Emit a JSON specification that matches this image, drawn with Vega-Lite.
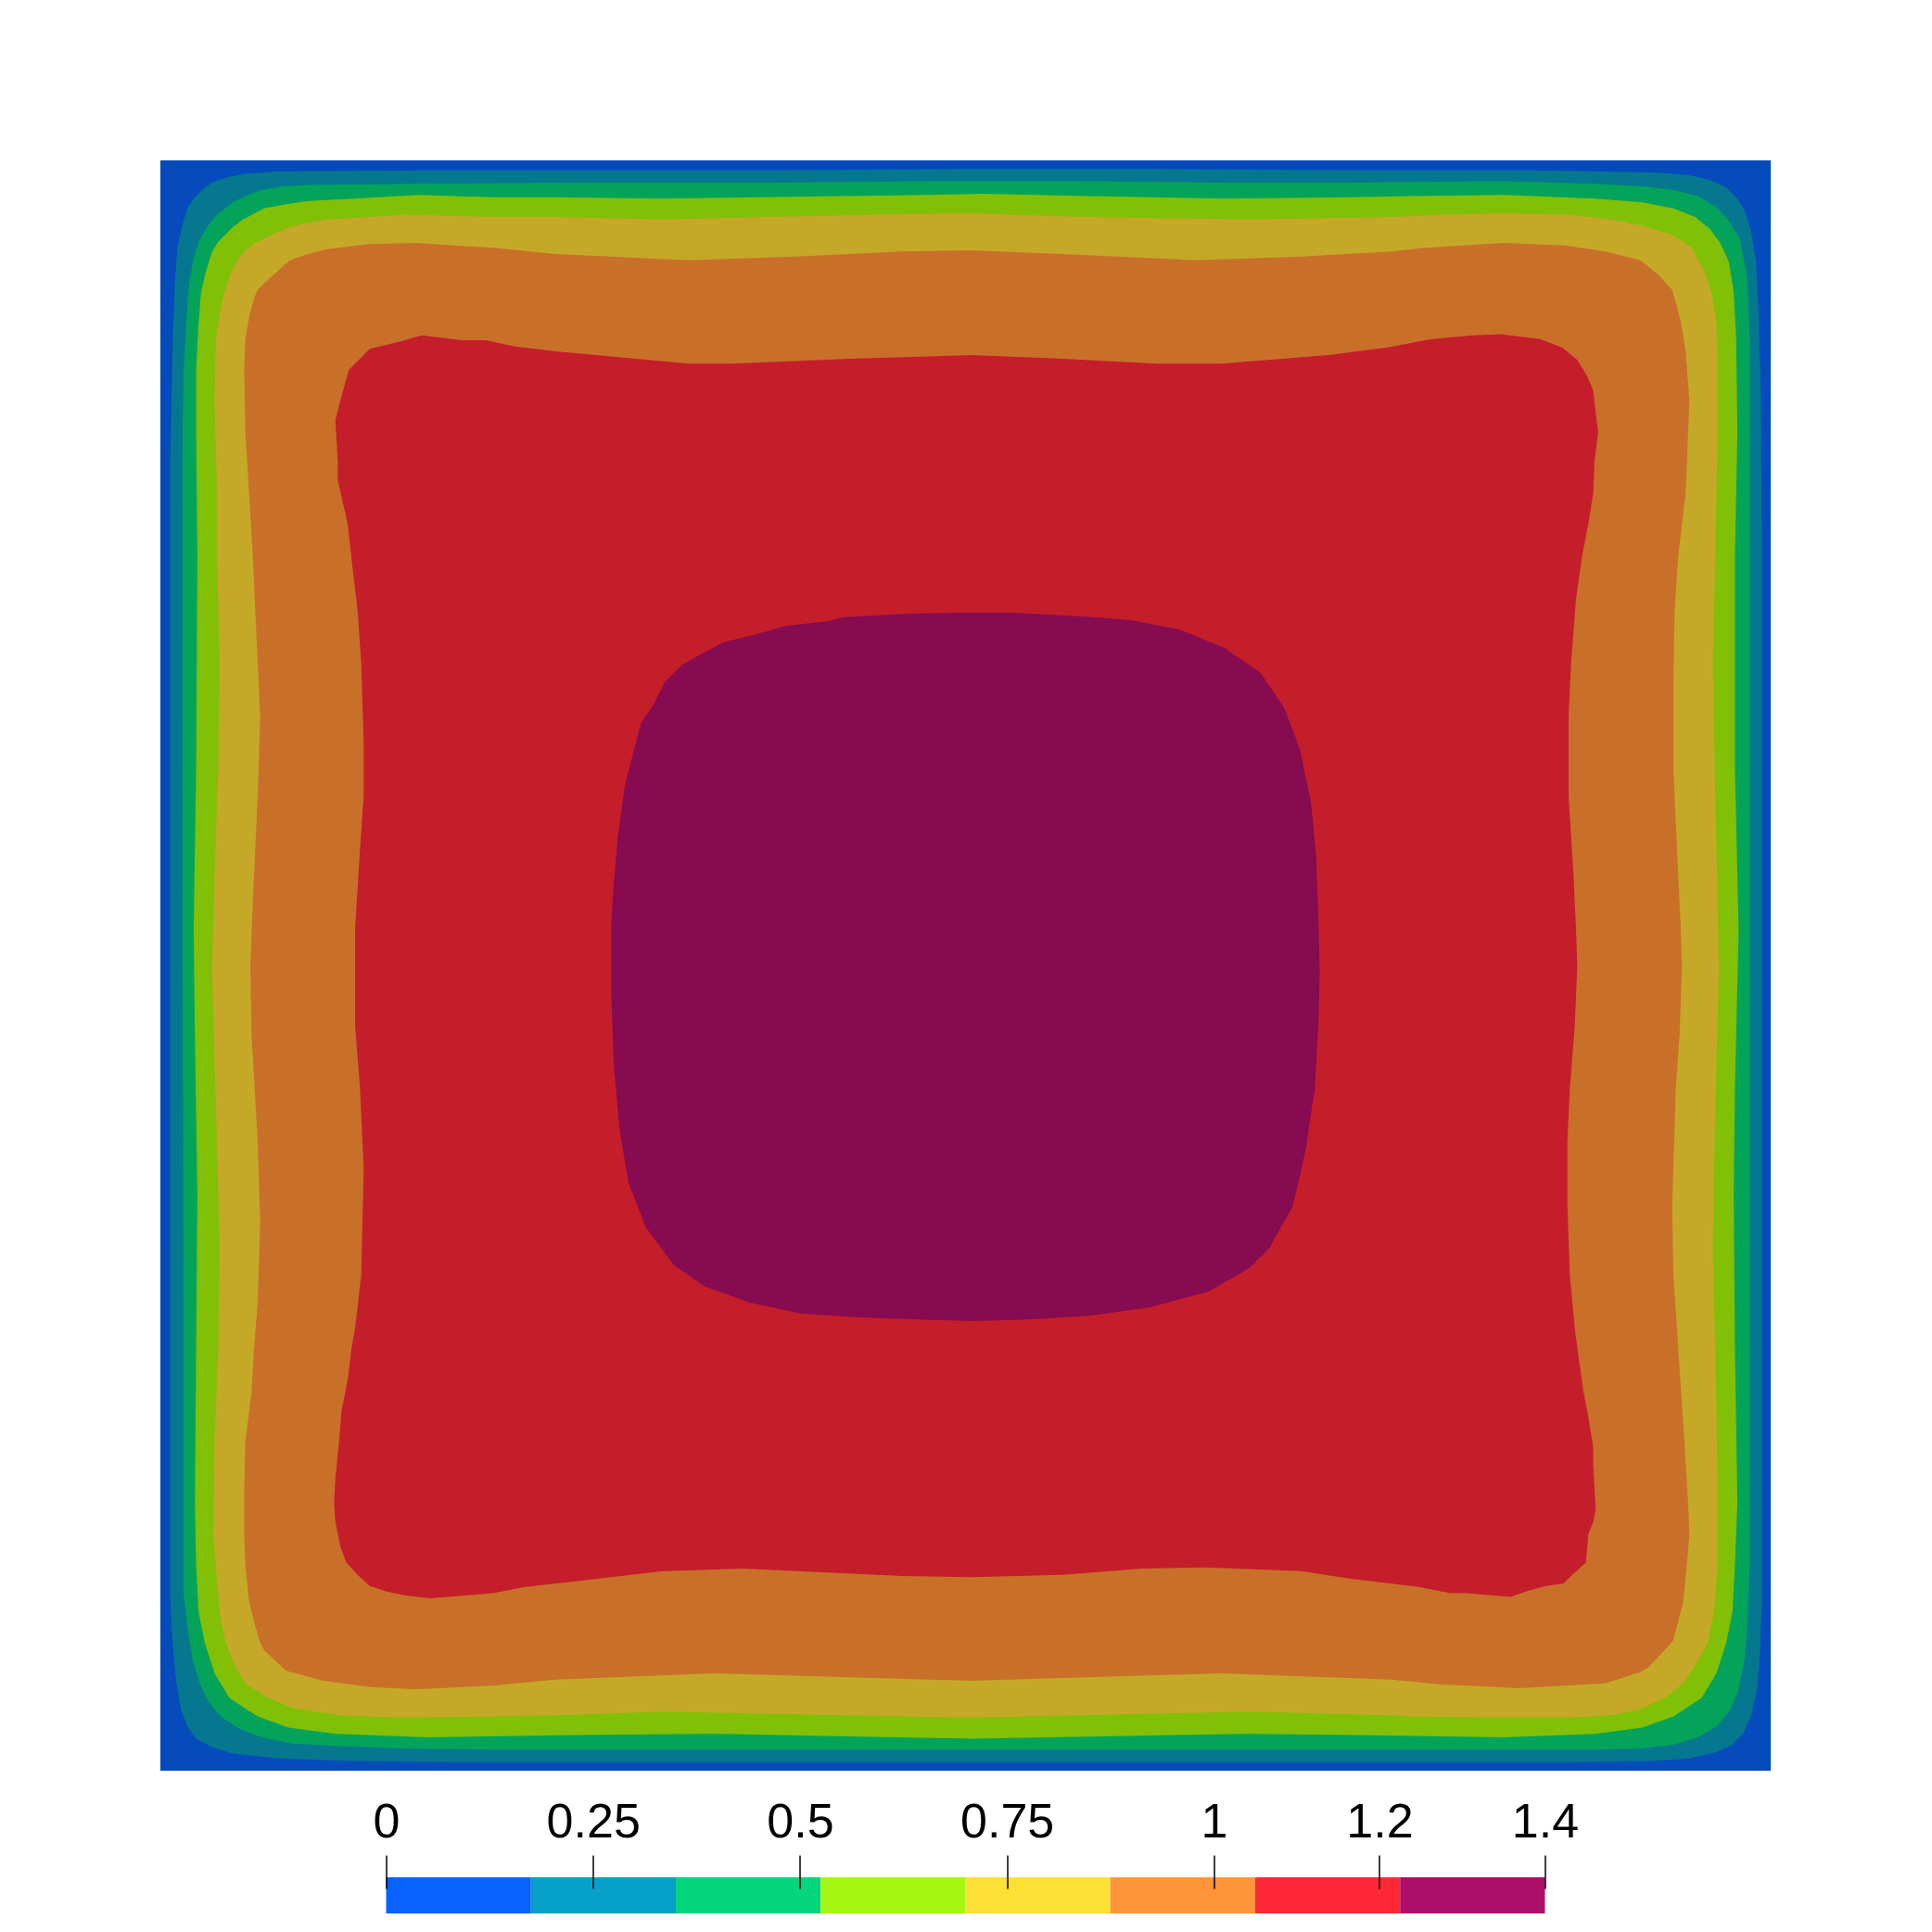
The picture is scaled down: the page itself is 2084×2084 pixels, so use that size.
{
"$schema": "https://vega.github.io/schema/vega-lite/v6.json",
"background": "white",
"padding": {"left": 173, "top": 173, "right": 0, "bottom": 0},
"config": {"view": {"stroke": null}},
"bounds": "flush",
"spacing": 115,
"center": true,
"resolve": {"scale": {"color": "independent", "x": "independent", "y": "independent"}},
"datasets": {
"bins": [
{"level": "0-0.175", "lo": 0, "hi": 0.175},
{"level": "0.175-0.35", "lo": 0.175, "hi": 0.35},
{"level": "0.35-0.525", "lo": 0.35, "hi": 0.525},
{"level": "0.525-0.7", "lo": 0.525, "hi": 0.7},
{"level": "0.7-0.875", "lo": 0.7, "hi": 0.875},
{"level": "0.875-1.05", "lo": 0.875, "hi": 1.05},
{"level": "1.05-1.225", "lo": 1.05, "hi": 1.225},
{"level": "1.225-1.4", "lo": 1.225, "hi": 1.4}
],
"contours": [
{"level":"0-0.175","x":0,"y":0},{"level":"0-0.175","x":1307,"y":0},{"level":"0-0.175","x":1307,"y":1307},{"level":"0-0.175","x":0,"y":1307},

{"level":"0.175-0.35","x":8,"y":650},{"level":"0.175-0.35","x":8,"y":245},{"level":"0.175-0.35","x":10,"y":145},{"level":"0.175-0.35","x":12,"y":95},{"level":"0.175-0.35","x":14,"y":69},{"level":"0.175-0.35","x":18,"y":52},{"level":"0.175-0.35","x":22,"y":39},{"level":"0.175-0.35","x":27,"y":31},{"level":"0.175-0.35","x":36,"y":22},{"level":"0.175-0.35","x":44,"y":17},{"level":"0.175-0.35","x":57,"y":13},{"level":"0.175-0.35","x":69,"y":11},{"level":"0.175-0.35","x":95,"y":9},{"level":"0.175-0.35","x":207,"y":8},{"level":"0.175-0.35","x":340,"y":8},{"level":"0.175-0.35","x":500,"y":8},{"level":"0.175-0.35","x":650,"y":7},{"level":"0.175-0.35","x":800,"y":7},{"level":"0.175-0.35","x":965,"y":8},{"level":"0.175-0.35","x":1115,"y":8},{"level":"0.175-0.35","x":1216,"y":10},{"level":"0.175-0.35","x":1241,"y":12},{"level":"0.175-0.35","x":1258,"y":16},{"level":"0.175-0.35","x":1271,"y":22},{"level":"0.175-0.35","x":1280,"y":31},{"level":"0.175-0.35","x":1286,"y":41},{"level":"0.175-0.35","x":1291,"y":57},{"level":"0.175-0.35","x":1295,"y":82},{"level":"0.175-0.35","x":1297,"y":120},{"level":"0.175-0.35","x":1299,"y":195},{"level":"0.175-0.35","x":1300,"y":340},{"level":"0.175-0.35","x":1300,"y":650},{"level":"0.175-0.35","x":1300,"y":965},{"level":"0.175-0.35","x":1300,"y":1165},{"level":"0.175-0.35","x":1298,"y":1216},{"level":"0.175-0.35","x":1296,"y":1241},{"level":"0.175-0.35","x":1291,"y":1263},{"level":"0.175-0.35","x":1285,"y":1276},{"level":"0.175-0.35","x":1276,"y":1286},{"level":"0.175-0.35","x":1263,"y":1292},{"level":"0.175-0.35","x":1241,"y":1297},{"level":"0.175-0.35","x":1216,"y":1299},{"level":"0.175-0.35","x":1140,"y":1300},{"level":"0.175-0.35","x":965,"y":1300},{"level":"0.175-0.35","x":650,"y":1300},{"level":"0.175-0.35","x":340,"y":1300},{"level":"0.175-0.35","x":245,"y":1300},{"level":"0.175-0.35","x":145,"y":1299},{"level":"0.175-0.35","x":95,"y":1297},{"level":"0.175-0.35","x":59,"y":1293},{"level":"0.175-0.35","x":42,"y":1288},{"level":"0.175-0.35","x":29,"y":1281},{"level":"0.175-0.35","x":22,"y":1271},{"level":"0.175-0.35","x":17,"y":1258},{"level":"0.175-0.35","x":13,"y":1236},{"level":"0.175-0.35","x":11,"y":1216},{"level":"0.175-0.35","x":9,"y":1190},{"level":"0.175-0.35","x":8,"y":1165},{"level":"0.175-0.35","x":8,"y":965},

{"level":"0.35-0.525","x":18,"y":650},{"level":"0.35-0.525","x":18,"y":220},{"level":"0.35-0.525","x":19,"y":170},{"level":"0.35-0.525","x":21,"y":132},{"level":"0.35-0.525","x":23,"y":102},{"level":"0.35-0.525","x":27,"y":79},{"level":"0.35-0.525","x":32,"y":64},{"level":"0.35-0.525","x":38,"y":54},{"level":"0.35-0.525","x":46,"y":44},{"level":"0.35-0.525","x":59,"y":34},{"level":"0.35-0.525","x":69,"y":29},{"level":"0.35-0.525","x":82,"y":24},{"level":"0.35-0.525","x":100,"y":21},{"level":"0.35-0.525","x":120,"y":20},{"level":"0.35-0.525","x":207,"y":19},{"level":"0.35-0.525","x":340,"y":18},{"level":"0.35-0.525","x":500,"y":18},{"level":"0.35-0.525","x":623,"y":17},{"level":"0.35-0.525","x":750,"y":17},{"level":"0.35-0.525","x":861,"y":18},{"level":"0.35-0.525","x":965,"y":18},{"level":"0.35-0.525","x":1090,"y":17},{"level":"0.35-0.525","x":1165,"y":19},{"level":"0.35-0.525","x":1203,"y":21},{"level":"0.35-0.525","x":1228,"y":24},{"level":"0.35-0.525","x":1248,"y":29},{"level":"0.35-0.525","x":1263,"y":38},{"level":"0.35-0.525","x":1273,"y":49},{"level":"0.35-0.525","x":1282,"y":64},{"level":"0.35-0.525","x":1288,"y":95},{"level":"0.35-0.525","x":1290,"y":145},{"level":"0.35-0.525","x":1290,"y":220},{"level":"0.35-0.525","x":1290,"y":340},{"level":"0.35-0.525","x":1290,"y":654},{"level":"0.35-0.525","x":1290,"y":965},{"level":"0.35-0.525","x":1290,"y":1140},{"level":"0.35-0.525","x":1288,"y":1190},{"level":"0.35-0.525","x":1286,"y":1216},{"level":"0.35-0.525","x":1281,"y":1241},{"level":"0.35-0.525","x":1274,"y":1258},{"level":"0.35-0.525","x":1263,"y":1271},{"level":"0.35-0.525","x":1248,"y":1280},{"level":"0.35-0.525","x":1228,"y":1286},{"level":"0.35-0.525","x":1203,"y":1289},{"level":"0.35-0.525","x":1165,"y":1290},{"level":"0.35-0.525","x":1090,"y":1290},{"level":"0.35-0.525","x":965,"y":1290},{"level":"0.35-0.525","x":650,"y":1290},{"level":"0.35-0.525","x":340,"y":1290},{"level":"0.35-0.525","x":270,"y":1290},{"level":"0.35-0.525","x":195,"y":1289},{"level":"0.35-0.525","x":145,"y":1287},{"level":"0.35-0.525","x":107,"y":1285},{"level":"0.35-0.525","x":82,"y":1280},{"level":"0.35-0.525","x":64,"y":1273},{"level":"0.35-0.525","x":49,"y":1263},{"level":"0.35-0.525","x":39,"y":1251},{"level":"0.35-0.525","x":32,"y":1236},{"level":"0.35-0.525","x":26,"y":1216},{"level":"0.35-0.525","x":22,"y":1190},{"level":"0.35-0.525","x":19,"y":1165},{"level":"0.35-0.525","x":19,"y":1140},{"level":"0.35-0.525","x":19,"y":965},

{"level":"0.525-0.7","x":30,"y":321},{"level":"0.525-0.7","x":29,"y":220},{"level":"0.525-0.7","x":29,"y":170},{"level":"0.525-0.7","x":31,"y":132},{"level":"0.525-0.7","x":33,"y":107},{"level":"0.525-0.7","x":37,"y":90},{"level":"0.525-0.7","x":42,"y":74},{"level":"0.525-0.7","x":47,"y":66},{"level":"0.525-0.7","x":59,"y":54},{"level":"0.525-0.7","x":67,"y":48},{"level":"0.525-0.7","x":84,"y":39},{"level":"0.525-0.7","x":100,"y":36},{"level":"0.525-0.7","x":120,"y":33},{"level":"0.525-0.7","x":157,"y":31},{"level":"0.525-0.7","x":210,"y":28},{"level":"0.525-0.7","x":270,"y":30},{"level":"0.525-0.7","x":321,"y":30},{"level":"0.525-0.7","x":408,"y":31},{"level":"0.525-0.7","x":624,"y":28},{"level":"0.525-0.7","x":667,"y":27},{"level":"0.525-0.7","x":753,"y":29},{"level":"0.525-0.7","x":861,"y":31},{"level":"0.525-0.7","x":965,"y":30},{"level":"0.525-0.7","x":1015,"y":29},{"level":"0.525-0.7","x":1090,"y":28},{"level":"0.525-0.7","x":1165,"y":31},{"level":"0.525-0.7","x":1203,"y":34},{"level":"0.525-0.7","x":1228,"y":39},{"level":"0.525-0.7","x":1246,"y":46},{"level":"0.525-0.7","x":1258,"y":56},{"level":"0.525-0.7","x":1266,"y":67},{"level":"0.525-0.7","x":1273,"y":82},{"level":"0.525-0.7","x":1277,"y":107},{"level":"0.525-0.7","x":1279,"y":145},{"level":"0.525-0.7","x":1280,"y":220},{"level":"0.525-0.7","x":1278,"y":321},{"level":"0.525-0.7","x":1278,"y":494},{"level":"0.525-0.7","x":1281,"y":624},{"level":"0.525-0.7","x":1278,"y":753},{"level":"0.525-0.7","x":1277,"y":840},{"level":"0.525-0.7","x":1278,"y":965},{"level":"0.525-0.7","x":1280,"y":1090},{"level":"0.525-0.7","x":1278,"y":1140},{"level":"0.525-0.7","x":1276,"y":1178},{"level":"0.525-0.7","x":1271,"y":1203},{"level":"0.525-0.7","x":1263,"y":1228},{"level":"0.525-0.7","x":1251,"y":1248},{"level":"0.525-0.7","x":1228,"y":1263},{"level":"0.525-0.7","x":1203,"y":1272},{"level":"0.525-0.7","x":1165,"y":1277},{"level":"0.525-0.7","x":1090,"y":1280},{"level":"0.525-0.7","x":965,"y":1278},{"level":"0.525-0.7","x":883,"y":1277},{"level":"0.525-0.7","x":658,"y":1281},{"level":"0.525-0.7","x":451,"y":1277},{"level":"0.525-0.7","x":340,"y":1278},{"level":"0.525-0.7","x":217,"y":1280},{"level":"0.525-0.7","x":142,"y":1277},{"level":"0.525-0.7","x":104,"y":1272},{"level":"0.525-0.7","x":79,"y":1263},{"level":"0.525-0.7","x":56,"y":1248},{"level":"0.525-0.7","x":44,"y":1228},{"level":"0.525-0.7","x":36,"y":1203},{"level":"0.525-0.7","x":31,"y":1178},{"level":"0.525-0.7","x":29,"y":1140},{"level":"0.525-0.7","x":28,"y":1090},{"level":"0.525-0.7","x":29,"y":965},{"level":"0.525-0.7","x":30,"y":840},{"level":"0.525-0.7","x":28,"y":710},{"level":"0.525-0.7","x":27,"y":624},{"level":"0.525-0.7","x":29,"y":494},

{"level":"0.7-0.875","x":46,"y":321},{"level":"0.7-0.875","x":46,"y":270},{"level":"0.7-0.875","x":44,"y":195},{"level":"0.7-0.875","x":45,"y":145},{"level":"0.7-0.875","x":48,"y":125},{"level":"0.7-0.875","x":52,"y":107},{"level":"0.7-0.875","x":57,"y":92},{"level":"0.7-0.875","x":62,"y":82},{"level":"0.7-0.875","x":69,"y":73},{"level":"0.7-0.875","x":77,"y":67},{"level":"0.7-0.875","x":90,"y":61},{"level":"0.7-0.875","x":105,"y":54},{"level":"0.7-0.875","x":120,"y":51},{"level":"0.7-0.875","x":135,"y":48},{"level":"0.7-0.875","x":170,"y":46},{"level":"0.7-0.875","x":195,"y":44},{"level":"0.7-0.875","x":270,"y":46},{"level":"0.7-0.875","x":321,"y":46},{"level":"0.7-0.875","x":408,"y":48},{"level":"0.7-0.875","x":581,"y":44},{"level":"0.7-0.875","x":658,"y":43},{"level":"0.7-0.875","x":753,"y":46},{"level":"0.7-0.875","x":883,"y":48},{"level":"0.7-0.875","x":999,"y":46},{"level":"0.7-0.875","x":1040,"y":44},{"level":"0.7-0.875","x":1090,"y":43},{"level":"0.7-0.875","x":1140,"y":44},{"level":"0.7-0.875","x":1178,"y":48},{"level":"0.7-0.875","x":1203,"y":53},{"level":"0.7-0.875","x":1228,"y":61},{"level":"0.7-0.875","x":1243,"y":71},{"level":"0.7-0.875","x":1253,"y":90},{"level":"0.7-0.875","x":1259,"y":107},{"level":"0.7-0.875","x":1263,"y":132},{"level":"0.7-0.875","x":1264,"y":170},{"level":"0.7-0.875","x":1264,"y":220},{"level":"0.7-0.875","x":1263,"y":270},{"level":"0.7-0.875","x":1262,"y":321},{"level":"0.7-0.875","x":1260,"y":408},{"level":"0.7-0.875","x":1262,"y":516},{"level":"0.7-0.875","x":1264,"y":602},{"level":"0.7-0.875","x":1265,"y":658},{"level":"0.7-0.875","x":1263,"y":732},{"level":"0.7-0.875","x":1261,"y":818},{"level":"0.7-0.875","x":1260,"y":883},{"level":"0.7-0.875","x":1262,"y":965},{"level":"0.7-0.875","x":1263,"y":1015},{"level":"0.7-0.875","x":1264,"y":1090},{"level":"0.7-0.875","x":1264,"y":1140},{"level":"0.7-0.875","x":1261,"y":1178},{"level":"0.7-0.875","x":1256,"y":1203},{"level":"0.7-0.875","x":1246,"y":1221},{"level":"0.7-0.875","x":1236,"y":1236},{"level":"0.7-0.875","x":1221,"y":1248},{"level":"0.7-0.875","x":1201,"y":1257},{"level":"0.7-0.875","x":1178,"y":1262},{"level":"0.7-0.875","x":1140,"y":1264},{"level":"0.7-0.875","x":1090,"y":1264},{"level":"0.7-0.875","x":1015,"y":1263},{"level":"0.7-0.875","x":999,"y":1262},{"level":"0.7-0.875","x":883,"y":1259},{"level":"0.7-0.875","x":658,"y":1264},{"level":"0.7-0.875","x":408,"y":1259},{"level":"0.7-0.875","x":321,"y":1262},{"level":"0.7-0.875","x":270,"y":1263},{"level":"0.7-0.875","x":195,"y":1264},{"level":"0.7-0.875","x":145,"y":1262},{"level":"0.7-0.875","x":107,"y":1256},{"level":"0.7-0.875","x":84,"y":1246},{"level":"0.7-0.875","x":69,"y":1236},{"level":"0.7-0.875","x":61,"y":1223},{"level":"0.7-0.875","x":53,"y":1203},{"level":"0.7-0.875","x":48,"y":1178},{"level":"0.7-0.875","x":46,"y":1153},{"level":"0.7-0.875","x":43,"y":1115},{"level":"0.7-0.875","x":44,"y":1040},{"level":"0.7-0.875","x":47,"y":965},{"level":"0.7-0.875","x":48,"y":883},{"level":"0.7-0.875","x":46,"y":797},{"level":"0.7-0.875","x":44,"y":732},{"level":"0.7-0.875","x":42,"y":654},{"level":"0.7-0.875","x":44,"y":581},{"level":"0.7-0.875","x":47,"y":494},{"level":"0.7-0.875","x":48,"y":408},

{"level":"0.875-1.05","x":69,"y":220},{"level":"0.875-1.05","x":68,"y":170},{"level":"0.875-1.05","x":69,"y":145},{"level":"0.875-1.05","x":72,"y":127},{"level":"0.875-1.05","x":76,"y":112},{"level":"0.875-1.05","x":79,"y":105},{"level":"0.875-1.05","x":83,"y":101},{"level":"0.875-1.05","x":95,"y":90},{"level":"0.875-1.05","x":105,"y":81},{"level":"0.875-1.05","x":117,"y":77},{"level":"0.875-1.05","x":135,"y":72},{"level":"0.875-1.05","x":170,"y":68},{"level":"0.875-1.05","x":207,"y":67},{"level":"0.875-1.05","x":270,"y":71},{"level":"0.875-1.05","x":321,"y":76},{"level":"0.875-1.05","x":429,"y":81},{"level":"0.875-1.05","x":516,"y":78},{"level":"0.875-1.05","x":602,"y":74},{"level":"0.875-1.05","x":658,"y":73},{"level":"0.875-1.05","x":732,"y":76},{"level":"0.875-1.05","x":840,"y":81},{"level":"0.875-1.05","x":926,"y":78},{"level":"0.875-1.05","x":999,"y":74},{"level":"0.875-1.05","x":1027,"y":71},{"level":"0.875-1.05","x":1090,"y":67},{"level":"0.875-1.05","x":1140,"y":69},{"level":"0.875-1.05","x":1173,"y":74},{"level":"0.875-1.05","x":1201,"y":81},{"level":"0.875-1.05","x":1216,"y":93},{"level":"0.875-1.05","x":1227,"y":105},{"level":"0.875-1.05","x":1234,"y":130},{"level":"0.875-1.05","x":1238,"y":155},{"level":"0.875-1.05","x":1241,"y":195},{"level":"0.875-1.05","x":1240,"y":220},{"level":"0.875-1.05","x":1238,"y":270},{"level":"0.875-1.05","x":1232,"y":321},{"level":"0.875-1.05","x":1229,"y":365},{"level":"0.875-1.05","x":1228,"y":429},{"level":"0.875-1.05","x":1228,"y":494},{"level":"0.875-1.05","x":1231,"y":559},{"level":"0.875-1.05","x":1234,"y":624},{"level":"0.875-1.05","x":1235,"y":654},{"level":"0.875-1.05","x":1233,"y":710},{"level":"0.875-1.05","x":1230,"y":753},{"level":"0.875-1.05","x":1228,"y":818},{"level":"0.875-1.05","x":1227,"y":848},{"level":"0.875-1.05","x":1228,"y":905},{"level":"0.875-1.05","x":1231,"y":948},{"level":"0.875-1.05","x":1232,"y":965},{"level":"0.875-1.05","x":1237,"y":1040},{"level":"0.875-1.05","x":1240,"y":1090},{"level":"0.875-1.05","x":1241,"y":1115},{"level":"0.875-1.05","x":1239,"y":1140},{"level":"0.875-1.05","x":1236,"y":1170},{"level":"0.875-1.05","x":1228,"y":1201},{"level":"0.875-1.05","x":1223,"y":1207},{"level":"0.875-1.05","x":1208,"y":1223},{"level":"0.875-1.05","x":1201,"y":1227},{"level":"0.875-1.05","x":1173,"y":1236},{"level":"0.875-1.05","x":1140,"y":1238},{"level":"0.875-1.05","x":1103,"y":1240},{"level":"0.875-1.05","x":1040,"y":1237},{"level":"0.875-1.05","x":999,"y":1233},{"level":"0.875-1.05","x":861,"y":1228},{"level":"0.875-1.05","x":658,"y":1234},{"level":"0.875-1.05","x":451,"y":1228},{"level":"0.875-1.05","x":321,"y":1233},{"level":"0.875-1.05","x":270,"y":1238},{"level":"0.875-1.05","x":207,"y":1241},{"level":"0.875-1.05","x":170,"y":1239},{"level":"0.875-1.05","x":132,"y":1234},{"level":"0.875-1.05","x":110,"y":1228},{"level":"0.875-1.05","x":102,"y":1226},{"level":"0.875-1.05","x":84,"y":1209},{"level":"0.875-1.05","x":81,"y":1203},{"level":"0.875-1.05","x":77,"y":1190},{"level":"0.875-1.05","x":72,"y":1170},{"level":"0.875-1.05","x":69,"y":1140},{"level":"0.875-1.05","x":68,"y":1115},{"level":"0.875-1.05","x":68,"y":1078},{"level":"0.875-1.05","x":69,"y":1040},{"level":"0.875-1.05","x":74,"y":1000},{"level":"0.875-1.05","x":76,"y":965},{"level":"0.875-1.05","x":79,"y":926},{"level":"0.875-1.05","x":81,"y":861},{"level":"0.875-1.05","x":79,"y":797},{"level":"0.875-1.05","x":74,"y":710},{"level":"0.875-1.05","x":73,"y":654},{"level":"0.875-1.05","x":75,"y":602},{"level":"0.875-1.05","x":79,"y":516},{"level":"0.875-1.05","x":81,"y":451},{"level":"0.875-1.05","x":79,"y":408},{"level":"0.875-1.05","x":75,"y":321},{"level":"0.875-1.05","x":72,"y":270},

{"level":"1.05-1.225","x":160,"y":365},{"level":"1.05-1.225","x":157,"y":340},{"level":"1.05-1.225","x":152,"y":295},{"level":"1.05-1.225","x":144,"y":260},{"level":"1.05-1.225","x":144,"y":245},{"level":"1.05-1.225","x":142,"y":211},{"level":"1.05-1.225","x":146,"y":195},{"level":"1.05-1.225","x":153,"y":170},{"level":"1.05-1.225","x":170,"y":153},{"level":"1.05-1.225","x":195,"y":147},{"level":"1.05-1.225","x":212,"y":142},{"level":"1.05-1.225","x":245,"y":146},{"level":"1.05-1.225","x":264,"y":146},{"level":"1.05-1.225","x":288,"y":151},{"level":"1.05-1.225","x":321,"y":155},{"level":"1.05-1.225","x":429,"y":165},{"level":"1.05-1.225","x":464,"y":165},{"level":"1.05-1.225","x":559,"y":161},{"level":"1.05-1.225","x":658,"y":158},{"level":"1.05-1.225","x":732,"y":161},{"level":"1.05-1.225","x":809,"y":165},{"level":"1.05-1.225","x":861,"y":165},{"level":"1.05-1.225","x":948,"y":158},{"level":"1.05-1.225","x":995,"y":152},{"level":"1.05-1.225","x":1032,"y":145},{"level":"1.05-1.225","x":1065,"y":142},{"level":"1.05-1.225","x":1088,"y":141},{"level":"1.05-1.225","x":1095,"y":142},{"level":"1.05-1.225","x":1120,"y":145},{"level":"1.05-1.225","x":1138,"y":152},{"level":"1.05-1.225","x":1150,"y":162},{"level":"1.05-1.225","x":1158,"y":175},{"level":"1.05-1.225","x":1163,"y":187},{"level":"1.05-1.225","x":1165,"y":205},{"level":"1.05-1.225","x":1167,"y":220},{"level":"1.05-1.225","x":1164,"y":245},{"level":"1.05-1.225","x":1163,"y":270},{"level":"1.05-1.225","x":1159,"y":295},{"level":"1.05-1.225","x":1154,"y":321},{"level":"1.05-1.225","x":1149,"y":356},{"level":"1.05-1.225","x":1145,"y":408},{"level":"1.05-1.225","x":1143,"y":451},{"level":"1.05-1.225","x":1143,"y":516},{"level":"1.05-1.225","x":1147,"y":581},{"level":"1.05-1.225","x":1149,"y":624},{"level":"1.05-1.225","x":1150,"y":654},{"level":"1.05-1.225","x":1148,"y":702},{"level":"1.05-1.225","x":1144,"y":753},{"level":"1.05-1.225","x":1142,"y":797},{"level":"1.05-1.225","x":1142,"y":848},{"level":"1.05-1.225","x":1144,"y":905},{"level":"1.05-1.225","x":1148,"y":948},{"level":"1.05-1.225","x":1152,"y":978},{"level":"1.05-1.225","x":1155,"y":999},{"level":"1.05-1.225","x":1159,"y":1020},{"level":"1.05-1.225","x":1163,"y":1045},{"level":"1.05-1.225","x":1163,"y":1060},{"level":"1.05-1.225","x":1165,"y":1095},{"level":"1.05-1.225","x":1163,"y":1105},{"level":"1.05-1.225","x":1159,"y":1115},{"level":"1.05-1.225","x":1157,"y":1138},{"level":"1.05-1.225","x":1145,"y":1149},{"level":"1.05-1.225","x":1139,"y":1155},{"level":"1.05-1.225","x":1125,"y":1157},{"level":"1.05-1.225","x":1110,"y":1161},{"level":"1.05-1.225","x":1096,"y":1166},{"level":"1.05-1.225","x":1072,"y":1164},{"level":"1.05-1.225","x":1060,"y":1163},{"level":"1.05-1.225","x":1047,"y":1163},{"level":"1.05-1.225","x":1022,"y":1158},{"level":"1.05-1.225","x":990,"y":1154},{"level":"1.05-1.225","x":965,"y":1151},{"level":"1.05-1.225","x":926,"y":1145},{"level":"1.05-1.225","x":848,"y":1142},{"level":"1.05-1.225","x":797,"y":1143},{"level":"1.05-1.225","x":732,"y":1148},{"level":"1.05-1.225","x":658,"y":1150},{"level":"1.05-1.225","x":602,"y":1149},{"level":"1.05-1.225","x":473,"y":1143},{"level":"1.05-1.225","x":408,"y":1145},{"level":"1.05-1.225","x":340,"y":1153},{"level":"1.05-1.225","x":295,"y":1158},{"level":"1.05-1.225","x":270,"y":1163},{"level":"1.05-1.225","x":245,"y":1165},{"level":"1.05-1.225","x":219,"y":1167},{"level":"1.05-1.225","x":200,"y":1165},{"level":"1.05-1.225","x":185,"y":1162},{"level":"1.05-1.225","x":170,"y":1157},{"level":"1.05-1.225","x":160,"y":1148},{"level":"1.05-1.225","x":151,"y":1138},{"level":"1.05-1.225","x":146,"y":1125},{"level":"1.05-1.225","x":142,"y":1105},{"level":"1.05-1.225","x":141,"y":1090},{"level":"1.05-1.225","x":142,"y":1070},{"level":"1.05-1.225","x":145,"y":1040},{"level":"1.05-1.225","x":147,"y":1015},{"level":"1.05-1.225","x":152,"y":990},{"level":"1.05-1.225","x":155,"y":965},{"level":"1.05-1.225","x":158,"y":948},{"level":"1.05-1.225","x":163,"y":905},{"level":"1.05-1.225","x":165,"y":818},{"level":"1.05-1.225","x":162,"y":753},{"level":"1.05-1.225","x":158,"y":702},{"level":"1.05-1.225","x":158,"y":654},{"level":"1.05-1.225","x":158,"y":624},{"level":"1.05-1.225","x":162,"y":559},{"level":"1.05-1.225","x":165,"y":516},{"level":"1.05-1.225","x":165,"y":473},{"level":"1.05-1.225","x":163,"y":408},

{"level":"1.225-1.4","x":409,"y":424},{"level":"1.225-1.4","x":424,"y":409},{"level":"1.225-1.4","x":457,"y":391},{"level":"1.225-1.4","x":482,"y":385},{"level":"1.225-1.4","x":507,"y":378},{"level":"1.225-1.4","x":542,"y":374},{"level":"1.225-1.4","x":553,"y":371},{"level":"1.225-1.4","x":605,"y":368},{"level":"1.225-1.4","x":651,"y":367},{"level":"1.225-1.4","x":689,"y":367},{"level":"1.225-1.4","x":747,"y":370},{"level":"1.225-1.4","x":787,"y":373},{"level":"1.225-1.4","x":828,"y":381},{"level":"1.225-1.4","x":864,"y":396},{"level":"1.225-1.4","x":893,"y":416},{"level":"1.225-1.4","x":912,"y":444},{"level":"1.225-1.4","x":925,"y":478},{"level":"1.225-1.4","x":934,"y":522},{"level":"1.225-1.4","x":938,"y":563},{"level":"1.225-1.4","x":940,"y":620},{"level":"1.225-1.4","x":941,"y":659},{"level":"1.225-1.4","x":940,"y":697},{"level":"1.225-1.4","x":937,"y":755},{"level":"1.225-1.4","x":935,"y":766},{"level":"1.225-1.4","x":930,"y":801},{"level":"1.225-1.4","x":925,"y":824},{"level":"1.225-1.4","x":919,"y":849},{"level":"1.225-1.4","x":900,"y":883},{"level":"1.225-1.4","x":884,"y":899},{"level":"1.225-1.4","x":851,"y":918},{"level":"1.225-1.4","x":803,"y":931},{"level":"1.225-1.4","x":753,"y":938},{"level":"1.225-1.4","x":701,"y":941},{"level":"1.225-1.4","x":659,"y":942},{"level":"1.225-1.4","x":620,"y":941},{"level":"1.225-1.4","x":567,"y":939},{"level":"1.225-1.4","x":520,"y":936},{"level":"1.225-1.4","x":478,"y":927},{"level":"1.225-1.4","x":442,"y":914},{"level":"1.225-1.4","x":417,"y":897},{"level":"1.225-1.4","x":394,"y":866},{"level":"1.225-1.4","x":380,"y":830},{"level":"1.225-1.4","x":373,"y":789},{"level":"1.225-1.4","x":368,"y":735},{"level":"1.225-1.4","x":366,"y":678},{"level":"1.225-1.4","x":366,"y":620},{"level":"1.225-1.4","x":367,"y":601},{"level":"1.225-1.4","x":371,"y":551},{"level":"1.225-1.4","x":377,"y":507},{"level":"1.225-1.4","x":390,"y":457},{"level":"1.225-1.4","x":400,"y":442}
]
},
"vconcat": [
{
"width": 1737,
"height": 1737,
"data": {"name": "contours"},
"mark": {"type": "line", "filled": true, "interpolate": "linear", "clip": true},
"encoding": {
"x": {"field": "x", "type": "quantitative", "scale": {"domain": [0, 1307], "nice": false, "zero": false}, "axis": null},
"y": {"field": "y", "type": "quantitative", "scale": {"domain": [0, 1307], "nice": false, "zero": false, "reverse": true}, "axis": null},
"order": {"value": null},
"color": {"field": "level", "type": "nominal",
"scale": {"domain": ["0-0.175","0.175-0.35","0.35-0.525","0.525-0.7","0.7-0.875","0.875-1.05","1.05-1.225","1.225-1.4"],
"range": ["#054BBB","#05788F","#04A35A","#82BF07","#C6A828","#C8702A","#C51E2B","#870B50"]},
"legend": null}
}
},
{
"width": 1250,
"height": 39,
"data": {"name": "bins"},
"mark": {"type": "rect"},
"encoding": {
"x": {"field": "lo", "type": "quantitative", "scale": {"domain": [0, 1.4], "nice": false, "zero": false},
"axis": {"orient": "top", "values": [0, 0.25, 0.5, 0.75, 1, 1.2, 1.4], "format": "~g", "title": null,
"domain": false, "grid": false, "ticks": true, "tickColor": "black", "tickWidth": 1.5, "tickSize": 36, "offset": -12,
"labelFontSize": 52, "labelFont": "Liberation Sans", "labelFontWeight": "normal", "labelColor": "black", "labelPadding": 9,
"labelFlush": false, "labelOverlap": false, "zindex": 1}},
"x2": {"field": "hi"},
"color": {"field": "level", "type": "nominal",
"scale": {"domain": ["0-0.175","0.175-0.35","0.35-0.525","0.525-0.7","0.7-0.875","0.875-1.05","1.05-1.225","1.225-1.4"],
"range": ["#0862FF","#07A0C8","#05D57D","#A6F712","#FDDF36","#FE953A","#FE2838","#AC0E6A"]},
"legend": null}
}
}
]
}
